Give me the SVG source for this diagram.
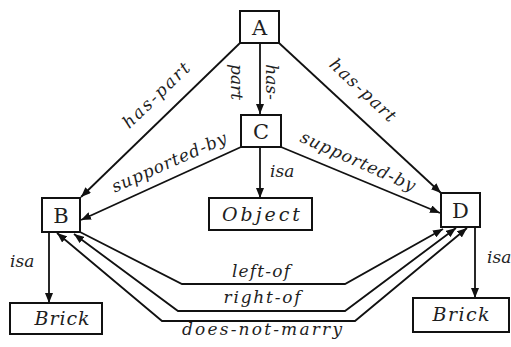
<svg xmlns="http://www.w3.org/2000/svg" width="511" height="347" viewBox="0 0 511 347" font-family="DejaVu Serif, Liberation Serif, serif">
  <defs>
    <marker id="arrow" viewBox="0 0 10 8" refX="10" refY="4" markerWidth="10" markerHeight="8" markerUnits="userSpaceOnUse" orient="auto-start-reverse">
      <path d="M0,0 L10,4 L0,8 z" fill="#111"/>
    </marker>
    <style>
      .box { fill: #fff; stroke: #111; stroke-width: 2; }
      .name { font-size: 21px; text-anchor: middle; fill: #1e1e1e; }
      .thing { font-style: italic; font-size: 19px; text-anchor: middle; fill: #1e1e1e; }
      .edge { fill: none; stroke: #111; stroke-width: 1.8; }
      .lbl { font-style: italic; font-size: 17px; fill: #1e1e1e; }
      .mid { text-anchor: middle; }
    </style>
  </defs>
  <rect width="511" height="347" fill="#fff"/>

  <!-- connectors -->
  <g id="connectors">
    <line class="edge" x1="260" y1="43" x2="260" y2="114" marker-end="url(#arrow)"/>
    <line class="edge" x1="240" y1="43" x2="81" y2="197" marker-end="url(#arrow)"/>
    <line class="edge" x1="279" y1="43" x2="441" y2="193" marker-end="url(#arrow)"/>
    <line class="edge" x1="241" y1="147" x2="81" y2="220" marker-end="url(#arrow)"/>
    <line class="edge" x1="281" y1="147" x2="440" y2="213" marker-end="url(#arrow)"/>
    <line class="edge" x1="260" y1="147" x2="260" y2="198" marker-end="url(#arrow)"/>
    <line class="edge" x1="49" y1="232" x2="49" y2="303" marker-end="url(#arrow)"/>
    <line class="edge" x1="475" y1="227" x2="475" y2="298" marker-end="url(#arrow)"/>
    <polyline class="edge" points="80,232 182,284 345,284 443,229" marker-end="url(#arrow)"/>
    <polyline class="edge" points="74,234 178,311 345,311 456,228" marker-start="url(#arrow)" marker-end="url(#arrow)"/>
    <polyline class="edge" points="57,233 162,321 355,321 467,228" marker-start="url(#arrow)" marker-end="url(#arrow)"/>

    <text class="lbl mid" transform="translate(156,95) rotate(-44)" y="6" textLength="86" lengthAdjust="spacing">has-part</text>
    <text class="lbl mid" transform="translate(363,90) rotate(43)" y="6" textLength="84" lengthAdjust="spacing">has-part</text>
    <text class="lbl mid" transform="translate(237,82) rotate(90)" y="6">part</text>
    <text class="lbl mid" transform="translate(272,82) rotate(90)" y="6">has-</text>
    <text class="lbl mid" transform="translate(169,162) rotate(-24)" y="6" textLength="124" lengthAdjust="spacing">supported-by</text>
    <text class="lbl mid" transform="translate(358,161) rotate(24)" y="6" textLength="124" lengthAdjust="spacing">supported-by</text>
    <text class="lbl" x="270" y="177">isa</text>
    <text class="lbl" x="10" y="267">isa</text>
    <text class="lbl" x="487" y="263">isa</text>
    <text class="lbl mid" x="261" y="277" textLength="58" lengthAdjust="spacing">left-of</text>
    <text class="lbl mid" x="262" y="303" textLength="77" lengthAdjust="spacing">right-of</text>
    <text class="lbl mid" x="262" y="335" textLength="160" lengthAdjust="spacing">does-not-marry</text>
  </g>

  <!-- nodes -->
  <g id="node-A">
    <rect class="box" x="240" y="11" width="39" height="32"/>
    <text class="name" x="259.5" y="34.5">A</text>
  </g>
  <g id="node-C">
    <rect class="box" x="241" y="115" width="40" height="32"/>
    <text class="name" x="261" y="138.5">C</text>
  </g>
  <g id="node-B">
    <rect class="box" x="42" y="198" width="38" height="34"/>
    <text class="name" x="61" y="222.5">B</text>
  </g>
  <g id="node-D">
    <rect class="box" x="441" y="193" width="39" height="34"/>
    <text class="name" x="460.5" y="217.5">D</text>
  </g>
  <g id="node-object">
    <rect class="box" x="209" y="198" width="103" height="32"/>
    <text class="thing" x="261" y="221" textLength="78" lengthAdjust="spacing">Object</text>
  </g>
  <g id="node-brick-left">
    <rect class="box" x="10" y="303" width="92" height="31"/>
    <text class="thing" x="62" y="325" textLength="55" lengthAdjust="spacing">Brick</text>
  </g>
  <g id="node-brick-right">
    <rect class="box" x="413" y="298" width="96" height="34"/>
    <text class="thing" x="461" y="321" textLength="57" lengthAdjust="spacing">Brick</text>
  </g>
</svg>
